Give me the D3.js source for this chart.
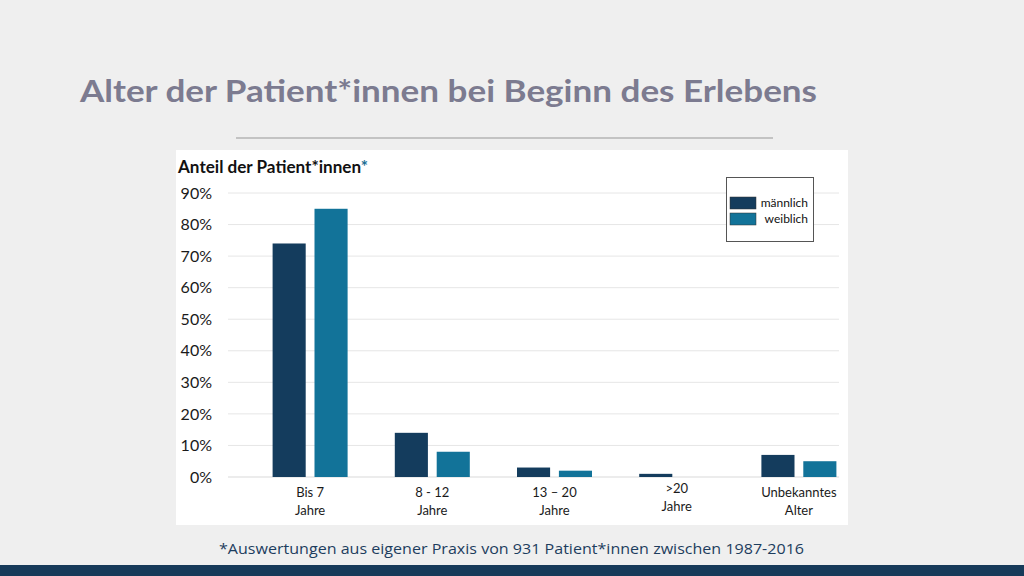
<!DOCTYPE html>
<html>
<head>
<meta charset="utf-8">
<script src="https://cdn.jsdelivr.net/npm/d3@7.9.0/dist/d3.min.js"></script>
<style>
  html, body { margin: 0; padding: 0; background: #efefef; }
  svg { display: block; }
</style>
</head>
<body>
<svg id="chart" width="1024" height="576"></svg>
<script>
const categories = [["Bis 7", "Jahre"], ["8 - 12", "Jahre"], ["13 – 20", "Jahre"], [">20", "Jahre"], ["Unbekanntes", "Alter"]];
const series = ["männlich", "weiblich"];
const maleValues = [74, 14, 3, 1, 7];
const femaleValues = [85, 8, 2, 0, 5];
const yTicks = [0, 10, 20, 30, 40, 50, 60, 70, 80, 90];

const colors = d3.scaleOrdinal().domain(series).range(["#143c5d", "#127399"]);
const font = "Lato, 'Open Sans', sans-serif";

const svg = d3.select('#chart');

// title + rule
svg.append('text')
  .attr('x', 80).attr('y', 102)
  .attr('font-family', font).attr('font-weight', 'bold')
  .attr('font-size', 31).attr('fill', '#7c7b90')
  .attr('textLength', 737).attr('lengthAdjust', 'spacingAndGlyphs')
  .text('Alter der Patient*innen bei Beginn des Erlebens');

svg.append('line')
  .attr('x1', 236).attr('x2', 773).attr('y1', 138).attr('y2', 138)
  .attr('stroke', '#c3c3c3').attr('stroke-width', 2);

// white panel
svg.append('rect')
  .attr('x', 176).attr('y', 150).attr('width', 672).attr('height', 375)
  .attr('fill', '#ffffff');

const x = d3.scaleBand().domain(d3.range(categories.length)).range([249, 860]);
const xs = d3.scaleBand().domain(series).range([-37.5, 37.5]).paddingInner(0.21);
const y = d3.scaleLinear().domain([0, 90]).range([477, 193]);

// gridlines
svg.append('g').selectAll('line').data(yTicks).join('line')
  .attr('x1', 228).attr('x2', 839)
  .attr('y1', d => y(d)).attr('y2', d => y(d))
  .attr('stroke', d => d === 0 ? '#d9d9d9' : '#e6e6e6').attr('stroke-width', 1);

// y axis labels
const yAxis = svg.append('g').attr('transform', 'translate(212,0)')
  .call(d3.axisLeft(y).tickValues(yTicks).tickFormat(d => d + '%').tickSize(0).tickPadding(0));
yAxis.select('.domain').remove();
yAxis.selectAll('text')
  .attr('font-family', font).attr('font-size', 16).attr('fill', '#1a1a1a');

// axis title
const ttl = svg.append('text')
  .attr('x', 178).attr('y', 173)
  .attr('font-family', font).attr('font-weight', 'bold')
  .attr('font-size', 16.5).attr('fill', '#111')
  .attr('textLength', 190).attr('lengthAdjust', 'spacingAndGlyphs');
ttl.append('tspan').text('Anteil der Patient*innen');
ttl.append('tspan').attr('fill', '#1b6d93').text('*');

// bars
const rows = categories.map((c, i) => ({ i, values: [maleValues[i], femaleValues[i]] }));
const groups = svg.append('g').selectAll('g').data(rows).join('g')
  .attr('transform', d => `translate(${x(d.i) + x.bandwidth() / 2},0)`);
groups.selectAll('rect')
  .data(d => series.map((s, k) => ({ s, v: d.values[k] })).filter(e => e.v > 0))
  .join('rect')
  .attr('x', d => xs(d.s))
  .attr('width', xs.bandwidth())
  .attr('y', d => y(d.v))
  .attr('height', d => y(0) - y(d.v))
  .attr('fill', d => colors(d.s));

// category labels
const labels = svg.append('g').selectAll('text').data(categories).join('text')
  .attr('x', (d, i) => x(i) + x.bandwidth() / 2)
  .attr('y', (d, i) => i === 3 ? 493 : 497)
  .attr('text-anchor', 'middle')
  .attr('font-family', font).attr('font-size', 13).attr('fill', '#1a1a1a');
labels.selectAll('tspan').data(d => d).join('tspan')
  .attr('x', function () { return this.parentNode.getAttribute('x'); })
  .attr('dy', (d, k) => k === 0 ? 0 : 18)
  .text(d => d);

// legend
const legend = svg.append('g');
legend.append('rect')
  .attr('x', 726.5).attr('y', 177.5).attr('width', 87).attr('height', 64)
  .attr('fill', '#fff').attr('stroke', '#555').attr('stroke-width', 1);
series.forEach((s, k) => {
  legend.append('rect')
    .attr('x', 730).attr('y', 197 + k * 16).attr('width', 26).attr('height', 12)
    .attr('fill', colors(s)).attr('stroke', '#333').attr('stroke-width', 0.5);
  legend.append('text')
    .attr('x', 808).attr('y', 207 + k * 16)
    .attr('text-anchor', 'end')
    .attr('font-family', font).attr('font-size', 12).attr('fill', '#111')
    .text(s);
});

// footnote
svg.append('text')
  .attr('x', 219).attr('y', 554)
  .attr('font-family', "'Open Sans', sans-serif").attr('font-size', 15).attr('fill', '#1d3d5e')
  .attr('textLength', 585).attr('lengthAdjust', 'spacingAndGlyphs')
  .text('*Auswertungen aus eigener Praxis von 931 Patient*innen zwischen 1987-2016');

// bottom band
svg.append('rect')
  .attr('x', 0).attr('y', 565).attr('width', 1024).attr('height', 11)
  .attr('fill', '#163a59');
</script>
</body>
</html>
